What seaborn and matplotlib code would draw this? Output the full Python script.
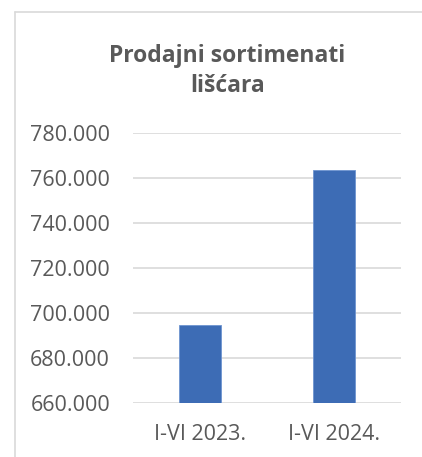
import matplotlib
matplotlib.use("Agg")
import matplotlib.pyplot as plt
import seaborn as sns
import pandas as pd
from matplotlib.lines import Line2D
from matplotlib.ticker import FuncFormatter

categories = ["I-VI 2023.", "I-VI 2024."]
values = [694400, 763400]
yticks = [660000, 680000, 700000, 720000, 740000, 760000, 780000]

sns.set_theme(style="white")
plt.rcParams['font.family'] = ['Open Sans', 'DejaVu Sans']

df = pd.DataFrame({"period": categories, "value": values})

fig = plt.figure(figsize=(4.22, 4.57), dpi=100)
ax = fig.add_axes([133/422, 1 - 402.7/457, (401-133)/422, (402.7-133)/457])

sns.barplot(data=df, x="period", y="value", color="#3d6cb5", width=0.31,
            saturation=1, ax=ax, zorder=3, edgecolor="#6e94d0", linewidth=0.6)

ax.set_ylim(660000, 780000)
ax.set_yticks(yticks)
ax.yaxis.set_major_formatter(FuncFormatter(lambda v, p: f"{int(v):,}".replace(",", ".")))
ax.grid(axis="y", color="#d9d9d9", linewidth=1.2, zorder=0)
for s in ax.spines.values():
    s.set_visible(False)
ax.set_xlabel("")
ax.set_ylabel("")
ax.tick_params(axis="both", length=0, labelsize=15.5, labelcolor="#595959")
ax.tick_params(axis="y", pad=16.5)
ax.tick_params(axis="x", pad=15)

fig.text(227.5/422, 1 - 71/457, "Prodajni sortimenati\nlišćara", ha="center", va="center",
         fontsize=16.5, fontweight="bold", color="#595959", linespacing=1.35)

fig.add_artist(Line2D([14.5/422, 14.5/422], [0, 1 - 11.5/457], transform=fig.transFigure,
                      color="#d9d9d9", linewidth=1.2))
fig.add_artist(Line2D([14.5/422, 1], [1 - 11.5/457, 1 - 11.5/457], transform=fig.transFigure,
                      color="#d9d9d9", linewidth=1.2))

fig.savefig("out.png", dpi=100, facecolor="white")
